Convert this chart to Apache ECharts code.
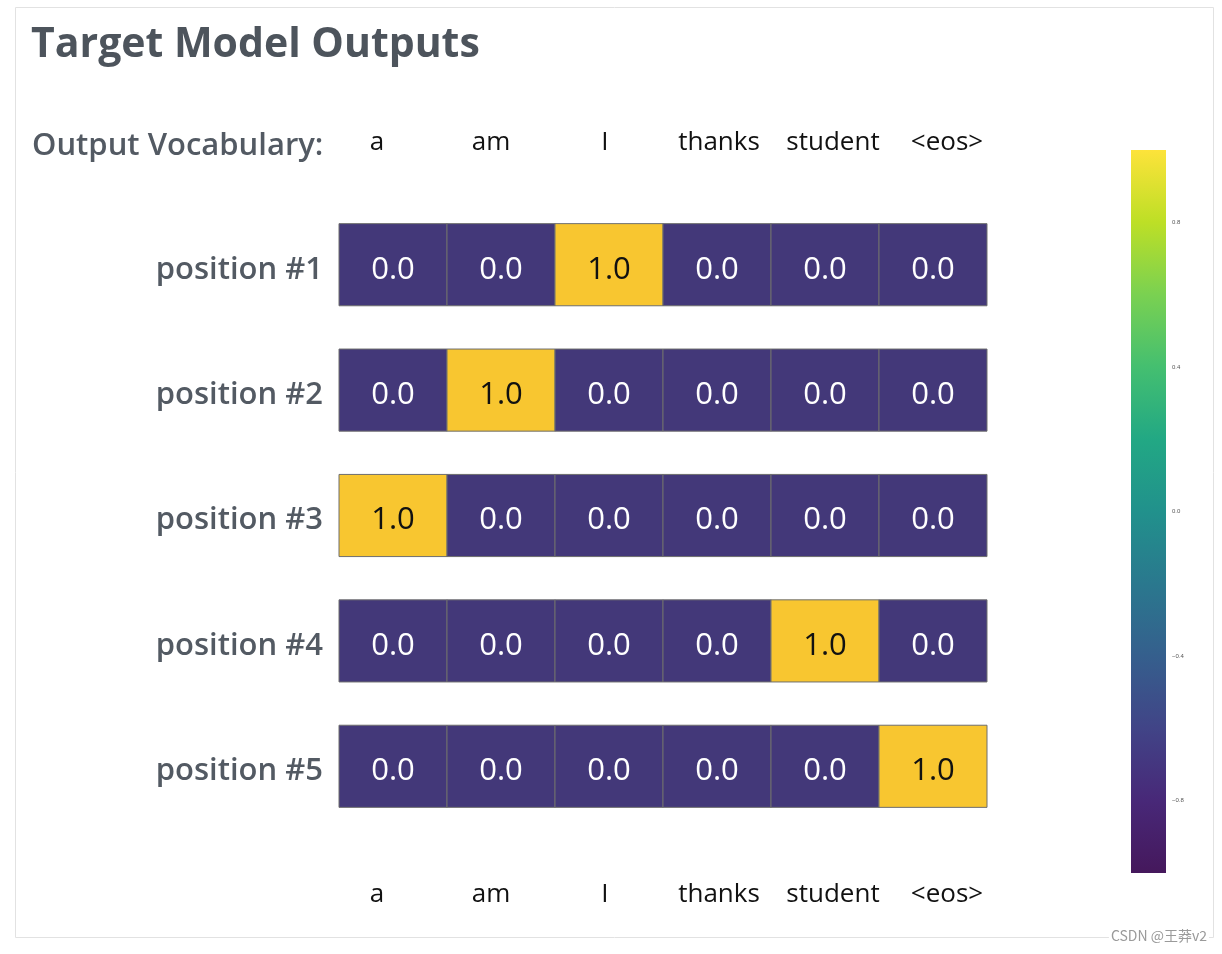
<!DOCTYPE html>
<html>
<head>
<meta charset="utf-8">
<script src="https://cdn.jsdelivr.net/npm/echarts@6/dist/echarts.min.js"></script>
<style>
  html, body { margin: 0; padding: 0; background: #fff; }
  #container { width: 1222px; height: 954px; }
</style>
</head>
<body>
<div id="container"></div>
<script>
var vocab = ['a', 'am', 'I', 'thanks', 'student', '<eos>'];
var positions = ['position #1', 'position #2', 'position #3', 'position #4', 'position #5'];
// one row per output position, one column per vocabulary word
var outputs = [
    [0, 0, 1, 0, 0, 0],
    [0, 1, 0, 0, 0, 0],
    [1, 0, 0, 0, 0, 0],
    [0, 0, 0, 0, 1, 0],
    [0, 0, 0, 0, 0, 1]
];
var colorbarMin = -1;
var colorbarMax = 1;
var colorbarTicks = [-0.8, -0.4, 0.0, 0.4, 0.8];

var cells = [];
for (var r = 0; r < outputs.length; r++) {
    for (var c = 0; c < outputs[r].length; c++) {
        cells.push([c, r, outputs[r][c]]);
    }
}

var viridis = ['#fde33a', '#bddf26', '#7ad151', '#44bf70', '#22a884', '#21918c',
               '#2a788e', '#355f8d', '#414487', '#482878', '#45185c'];
var stops = viridis.map(function (col, i) {
    return { offset: i / (viridis.length - 1), color: col };
});

var dom = document.getElementById('container');
var myChart = echarts.init(dom);
var labelGrey = '#535a63';

var option = {
    backgroundColor: '#fff',
    animation: false,
    title: [
        {
            text: 'Target Model Outputs',
            left: 26, top: 14,
            textStyle: { fontFamily: 'Open Sans', fontSize: 41, fontWeight: 'bold', color: '#4d545c', lineHeight: 52 }
        },
        {
            text: 'Output Vocabulary:',
            left: 27, top: 122,
            textStyle: { fontFamily: 'Open Sans', fontSize: 31, fontWeight: 600, color: labelGrey, lineHeight: 38 }
        }
    ],
    grid: [
        { left: 339, width: 648, top: 202, height: 627 },
        { left: 320, width: 684, top: 162, height: 714 },
        {
            left: 1131, width: 35, top: 150, height: 723,
            show: true, borderWidth: 0,
            backgroundColor: new echarts.graphic.LinearGradient(0, 0, 0, 1, stops)
        }
    ],
    xAxis: [
        { gridIndex: 0, type: 'category', data: vocab, show: false },
        {
            gridIndex: 1, type: 'category', data: vocab, position: 'top',
            axisLine: { show: false }, axisTick: { show: false },
            axisLabel: { interval: 0, margin: 6, fontFamily: 'Open Sans', fontSize: 26, color: '#111' }
        },
        {
            gridIndex: 1, type: 'category', data: vocab, position: 'bottom',
            axisLine: { show: false }, axisTick: { show: false },
            axisLabel: { interval: 0, margin: 6, fontFamily: 'Open Sans', fontSize: 26, color: '#111' }
        },
        { gridIndex: 2, type: 'value', show: false }
    ],
    yAxis: [
        {
            gridIndex: 0, type: 'category', data: positions, inverse: true,
            axisLine: { show: false }, axisTick: { show: false },
            axisLabel: {
                interval: 0, margin: 16,
                formatter: function (v) { return '{p|' + v + '}'; },
                rich: {
                    p: {
                        fontFamily: 'Open Sans', fontSize: 31, fontWeight: 600, color: labelGrey,
                        padding: [10, 0, 0, 0]
                    }
                }
            }
        },
        { gridIndex: 1, type: 'value', show: false },
        {
            gridIndex: 2, type: 'value', min: colorbarMin, max: colorbarMax, position: 'right',
            axisLine: { show: false }, axisTick: { show: false }, splitLine: { show: false },
            axisLabel: {
                customValues: colorbarTicks, margin: 6, fontSize: 6, color: '#555',
                formatter: function (v) { return v.toFixed(1).replace('-', '\u2212'); }
            }
        }
    ],
    visualMap: {
        type: 'piecewise', show: false, seriesIndex: 0, dimension: 2,
        pieces: [
            { value: 0, color: '#433879' },
            { value: 1, color: '#f8c630' }
        ]
    },
    series: [
        {
            type: 'custom',
            xAxisIndex: 0, yAxisIndex: 0,
            data: cells,
            encode: { x: 0, y: 1 },
            renderItem: function (params, api) {
                var v = api.value(2);
                var center = api.coord([api.value(0), api.value(1)]);
                var size = api.size([1, 1]);
                var h = size[1] * 0.655;
                return {
                    type: 'rect',
                    shape: { x: center[0] - size[0] / 2, y: center[1] - h / 2, width: size[0], height: h },
                    style: { fill: api.visual('color'), stroke: '#6e6e6e', lineWidth: 1 },
                    textContent: {
                        type: 'text',
                        style: {
                            text: v.toFixed(1),
                            fill: v > 0.5 ? '#111' : '#fff',
                            fontFamily: 'Open Sans', fontSize: 31
                        }
                    },
                    textConfig: { position: 'inside', offset: [0, 5] }
                };
            }
        }
    ],
    graphic: [
        {
            type: 'rect', silent: true, z: -1,
            shape: { x: 15.5, y: 7.5, width: 1198, height: 930 },
            style: { fill: 'none', stroke: '#e2e2e2', lineWidth: 1 }
        },
        {
            type: 'text', silent: true,
            right: 13, top: 929,
            style: {
                text: 'CSDN @王莽v2', fill: '#9a9a9a',
                font: '14px "Noto Sans CJK SC", sans-serif',
                backgroundColor: '#fff', padding: [0, 2]
            }
        }
    ]
};

if (option && typeof option === 'object') {
    myChart.setOption(option, true);
}
</script>
</body>
</html>
